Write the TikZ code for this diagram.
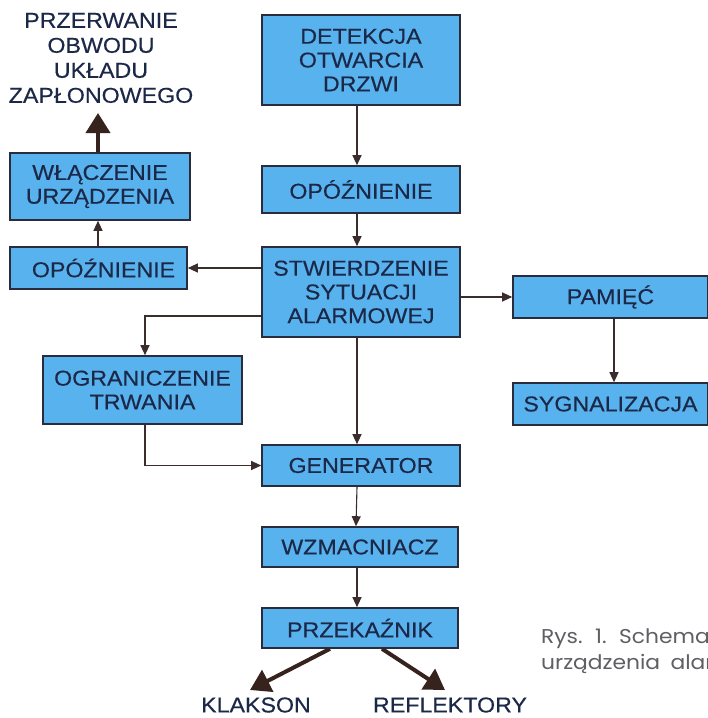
\documentclass[tikz,border=0pt]{standalone}
\usepackage{fontspec}
\setmainfont{Liberation Sans}[FakeStretch=1.08,FakeBold=0.35]
\newfontfamily\capfont{Poppins}[WordSpace=1.8,FakeStretch=1.09]
\usetikzlibrary{arrows.meta,calc}
\definecolor{boxfill}{RGB}{88,178,238}
\definecolor{bordercol}{RGB}{40,44,60}
\definecolor{textcol}{RGB}{28,40,72}
\definecolor{arrowcol}{RGB}{60,45,45}
\definecolor{thickcol}{RGB}{55,35,30}
\definecolor{capcol}{RGB}{95,95,100}
\newcommand\bxfont{\fontsize{21.5}{23.8}\selectfont}
\begin{document}
\begin{tikzpicture}[x=1pt,y=-1pt,
  box/.style={draw=bordercol,line width=1.6pt,fill=boxfill,text=textcol,align=center,inner sep=0pt,font=\bxfont},
  lbl/.style={text=textcol,align=center,inner sep=0pt,font=\bxfont},
  thin/.style={draw=arrowcol,line width=1.1pt,-{Triangle[length=10pt,width=9pt]}},
  thick/.style={draw=thickcol,line width=4pt,-{Triangle[length=20pt,width=24pt]}}]
\fill[white] (0,0) rectangle (708,718);
\useasboundingbox (0,0) rectangle (708,718);
% boxes
\node[box,minimum width=198pt,minimum height=90pt] (det) at (361,60) {DETEKCJA\\OTWARCIA\\DRZWI};
\node[box,minimum width=198pt,minimum height=47pt] (op1) at (361,189.5) {OPÓŹNIENIE};
\node[box,minimum width=198pt,minimum height=90pt] (stw) at (361,292) {STWIERDZENIE\\SYTUACJI\\ALARMOWEJ};
\node[box,minimum width=195pt,minimum height=42pt] (pam) at (610.5,297) {PAMIĘĆ};
\node[box,minimum width=195pt,minimum height=42pt] (syg) at (610.5,404) {SYGNALIZACJA};
\node[box,minimum width=180pt,minimum height=67pt] (wl) at (100,186.5) {WŁĄCZENIE\\URZĄDZENIA};
\node[box,minimum width=177pt,minimum height=42pt] (op2) at (98.5,268) {\hspace*{10pt}OPÓŹNIENIE};
\node[box,minimum width=199pt,minimum height=68pt] (ogr) at (142.5,390) {OGRANICZENIE\\TRWANIA};
\node[box,minimum width=198pt,minimum height=41pt] (gen) at (361,465.5) {GENERATOR};
\node[box,minimum width=196pt,minimum height=40pt] (wzm) at (360,547) {WZMACNIACZ};
\node[box,minimum width=196pt,minimum height=40pt] (prz) at (360,628) {PRZEKAŹNIK};
% free labels
\node[lbl,font=\fontsize{21.5}{25}\selectfont] (prze) at (101,58) {PRZERWANIE\\OBWODU\\UKŁADU\\ZAPŁONOWEGO};
\node[lbl] (kla) at (256,705) {KLAKSON};
\node[lbl] (ref) at (450,705) {REFLEKTORY};
\node[anchor=base west,inner sep=0pt,text=capcol,align=left,font=\capfont\fontsize{20}{26}\selectfont] (cap) at (541,669) {Rys. 1. Schemat\\urządzenia alarmowego};
% tips
\coordinate (ptip) at (98,113);
\coordinate (ktip) at (250,690);
\coordinate (rtip) at (445,690);
% thin connectors
\draw[thin] ([xshift=-4pt]det.south) -- ([xshift=-4pt]op1.north);
\draw[thin] ([xshift=-4pt]op1.south) -- ([xshift=-4pt]stw.north);
\draw[thin] ([xshift=-4pt]stw.south) -- ([xshift=-4pt]gen.north);
\draw[thin] ([xshift=-4pt]gen.south) -- ([xshift=-4pt]wzm.north);
\draw[thin] ([xshift=-3pt]wzm.south) -- ([xshift=-3pt]wzm.south |- prz.north);
\draw[thin] (stw.west |- op2.east) -- (op2.east);
\draw[thin] ([xshift=-0.5pt]op2.north) -- ([xshift=-0.5pt]op2.north |- wl.south);
\draw[thin] ([yshift=-24pt]stw.west) -| ([xshift=2.5pt]ogr.north);
\draw[thin] ([xshift=2.5pt]ogr.south) |- (gen.west);
\draw[thin] (stw.east |- pam.west) -- (pam.west);
\draw[thin] ([xshift=3.5pt]pam.south) -- ([xshift=3.5pt]syg.north);
% thick arrows
\draw[thick] (wl.north -| ptip) -- (ptip);
\draw[thick] ([xshift=-30pt]prz.south) -- (ktip);
\draw[thick] ([xshift=22pt]prz.south) -- (rtip);
\end{tikzpicture}
\end{document}
